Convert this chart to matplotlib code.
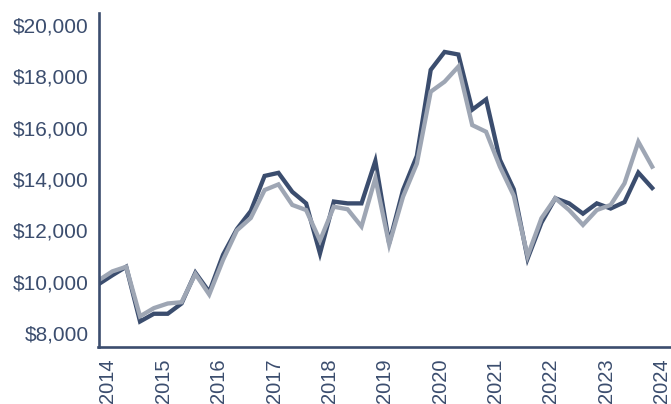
import matplotlib
matplotlib.use("Agg")
import matplotlib.pyplot as plt
from matplotlib.ticker import FuncFormatter
from matplotlib.transforms import ScaledTranslation

# quarterly values, 2014 Q1 .. 2024 Q1
quarters = [2014 + i / 4 for i in range(41)]
fund = [9900, 10250, 10580, 8450, 8750, 8750, 9150, 10350, 9600, 11050,
        12050, 12750, 14120, 14240, 13500, 13050, 11100, 13120, 13050, 13050,
        14700, 11500, 13570, 14900, 18250, 18950, 18850, 16700, 17100, 14750,
        13600, 10900, 12300, 13250, 13050, 12650, 13050, 12850, 13100, 14250,
        13650]
index = [10050, 10400, 10580, 8650, 8970, 9150, 9200, 10300, 9500, 10850,
         12000, 12480, 13570, 13790, 12990, 12790, 11600, 12920, 12820, 12150,
         14030, 11450, 13310, 14600, 17400, 17790, 18380, 16100, 15840, 14480,
         13350, 11000, 12470, 13250, 12790, 12210, 12790, 12990, 13830, 15450,
         14480]
year_ticks = list(range(2014, 2025))
y_ticks = [8000, 10000, 12000, 14000, 16000, 18000, 20000]

DARK = "#3b4d6e"
GRAY = "#9ea6b4"

plt.rcParams["font.family"] = ["Liberation Sans", "DejaVu Sans"]

fig = plt.figure(figsize=(6.71, 4.04), dpi=100)
ax = fig.add_axes([98.5 / 671, 57 / 404, 1 - 98.5 / 671, (347 - 13) / 404])

ax.plot(quarters, fund, color=DARK, lw=3.1, solid_joinstyle="miter")
ax.plot(quarters, index, color=GRAY, lw=3.1, solid_joinstyle="miter")

ax.set_xlim(2014, 2024.34)
ax.set_ylim(7455, 20467)
ax.set_xticks(year_ticks)
ax.set_xticklabels([str(y) for y in year_ticks], rotation=90, ha="left",
                   fontsize=14.5, color=DARK)
shift = ScaledTranslation(2 / 100, 0, fig.dpi_scale_trans)
for lab in ax.get_xticklabels():
    lab.set_transform(lab.get_transform() + shift)
ax.set_yticks(y_ticks)
ax.yaxis.set_major_formatter(FuncFormatter(lambda v, p: f"${v:,.0f}"))
ax.tick_params(axis="y", length=0, pad=7, labelsize=15, labelcolor=DARK)
ax.tick_params(axis="x", length=0, pad=8)

for side in ("top", "right"):
    ax.spines[side].set_visible(False)
for side in ("left", "bottom"):
    ax.spines[side].set_color(DARK)
    ax.spines[side].set_linewidth(1.9)

fig.savefig("out.png", dpi=100)
